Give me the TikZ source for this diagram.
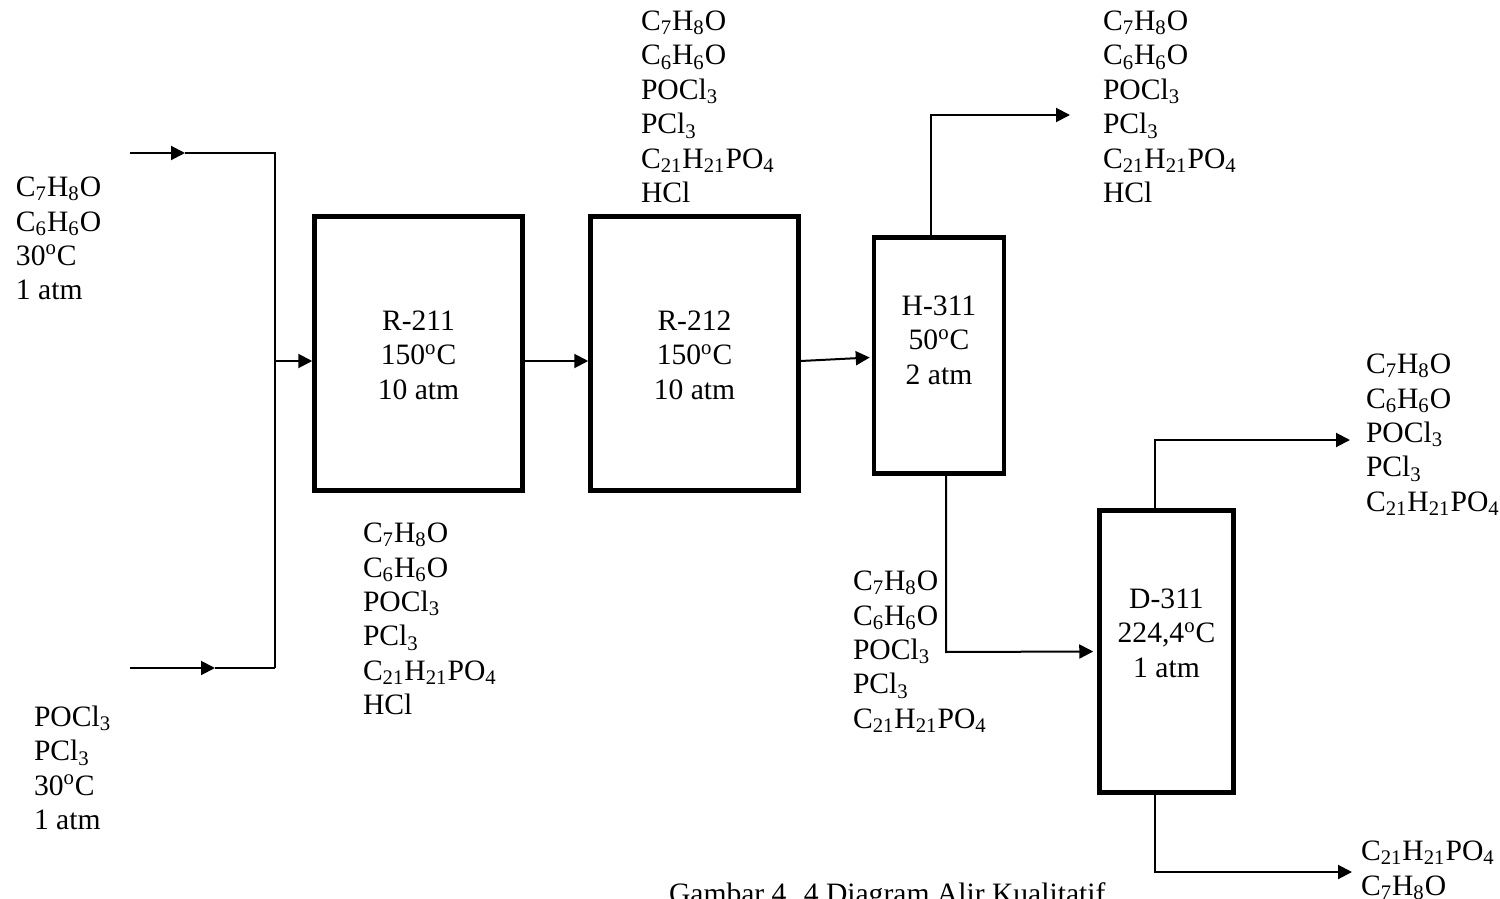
\documentclass[tikz,border=0pt]{standalone}
\usepackage{fontspec}
\setmainfont{Liberation Serif}
\usetikzlibrary{arrows.meta}
\newcommand{\sbs}[1]{\textsubscript{#1}}
\newcommand{\degC}{\textsuperscript{o}C}

\begin{document}
\begin{tikzpicture}[
            x=0.5pt, y=-0.5pt,
            >={Triangle[length=7pt,width=7pt]},
            line width=1pt,
            unit/.style={rectangle, draw, line width=2.25pt, inner sep=0pt},
            tag/.style={align=center, inner sep=0pt, font=\fontsize{14.8}{17.2}\selectfont},
            stream/.style={align=left, anchor=north west, inner sep=0pt, font=\fontsize{14.8}{17.2}\selectfont}
        ]
        \useasboundingbox (0,0) rectangle (1500,899);

        % --- Units ---
        \node[unit, minimum width=104pt, minimum height=137pt] (R211) at (418.5,353.5) {};
        \node[unit, minimum width=104pt, minimum height=137pt] (R212) at (694.5,353.5) {};
        \node[unit, minimum width=65pt, minimum height=118pt] (H311) at (939,355.5) {};
        \node[unit, minimum width=67pt, minimum height=141pt] (D311) at (1166.5,651.5) {};

        \node[tag] (tR211) at (418.5,355) {R-211\\150\degC\\10 atm};
        \node[tag] (tR212) at (694.5,355) {R-212\\150\degC\\10 atm};
        \node[tag] (tH311) at (939,340) {H-311\\50\degC\\2 atm};
        \node[tag] (tD311) at (1166.5,633) {D-311\\224,4\degC\\1 atm};

        % --- Stream texts ---
        \node[stream] (feedA) at (15,176) {C\sbs{7}H\sbs{8}O\\C\sbs{6}H\sbs{6}O\\30\degC\\1 atm};
        \node[stream] (feedB) at (33,705) {POCl\sbs{3}\\PCl\sbs{3}\\30\degC\\1 atm};
        \node[stream] (s1) at (362,522) {C\sbs{7}H\sbs{8}O\\C\sbs{6}H\sbs{6}O\\POCl\sbs{3}\\PCl\sbs{3}\\C\sbs{21}H\sbs{21}PO\sbs{4}\\HCl};
        \node[stream] (s2) at (640,10) {C\sbs{7}H\sbs{8}O\\C\sbs{6}H\sbs{6}O\\POCl\sbs{3}\\PCl\sbs{3}\\C\sbs{21}H\sbs{21}PO\sbs{4}\\HCl};
        \node[stream] (s3) at (1102,10) {C\sbs{7}H\sbs{8}O\\C\sbs{6}H\sbs{6}O\\POCl\sbs{3}\\PCl\sbs{3}\\C\sbs{21}H\sbs{21}PO\sbs{4}\\HCl};
        \node[stream] (s4) at (852,570) {C\sbs{7}H\sbs{8}O\\C\sbs{6}H\sbs{6}O\\POCl\sbs{3}\\PCl\sbs{3}\\C\sbs{21}H\sbs{21}PO\sbs{4}};
        \node[stream] (s5) at (1365,353) {C\sbs{7}H\sbs{8}O\\C\sbs{6}H\sbs{6}O\\POCl\sbs{3}\\PCl\sbs{3}\\C\sbs{21}H\sbs{21}PO\sbs{4}};
        \node[stream] (s6) at (1360,840) {C\sbs{21}H\sbs{21}PO\sbs{4}\\C\sbs{7}H\sbs{8}O};

        \node[tag, anchor=base west] (caption) at (668,903) {Gambar 4. 4 Diagram Alir Kualitatif};

        % --- Points on the lines ---
        \coordinate (inA) at (130,153);
        \coordinate (tipA) at (185,153);
        \coordinate (jA) at (275,153);
        \coordinate (inB) at (130,668);
        \coordinate (tipB) at (215,668);
        \coordinate (jB) at (275,668);
        \coordinate (jM) at (275,361);
        \coordinate (hTop) at (931,115);
        \coordinate (hOut) at (1070,115);
        \coordinate (hBot) at (946,652);
        \coordinate (dTop) at (1155,440);
        \coordinate (dOut) at (1350,440);
        \coordinate (dBot) at (1155,872);
        \coordinate (dEnd) at (1352,872);

        % --- Feed lines ---
        \draw[->] (inA) -- (tipA);
        \draw (tipA) -- (jA) -- (jB);
        \draw[->] (inB) -- (tipB);
        \draw (tipB) -- (jB);
        \draw[->] (jM) -- (jM -| R211.west);

        % --- Between units ---
        \draw[->] (R211.east |- jM) -- (R212.west |- jM);
        \draw[->] (R212.east |- jM) -- ([xshift=-1pt,yshift=-1pt]H311.west);
        \draw[->] (H311.north -| hTop) -- (hTop) -- (hOut);
        \draw[->] (H311.south -| hBot) -- (hBot) -- ([xshift=-2pt]D311.west);
        \draw[->] (D311.north -| dTop) -- (dTop) -- (dOut);
        \draw[->] (D311.south -| dBot) -- (dBot) -- (dEnd);
        \end{tikzpicture}
\end{document}
